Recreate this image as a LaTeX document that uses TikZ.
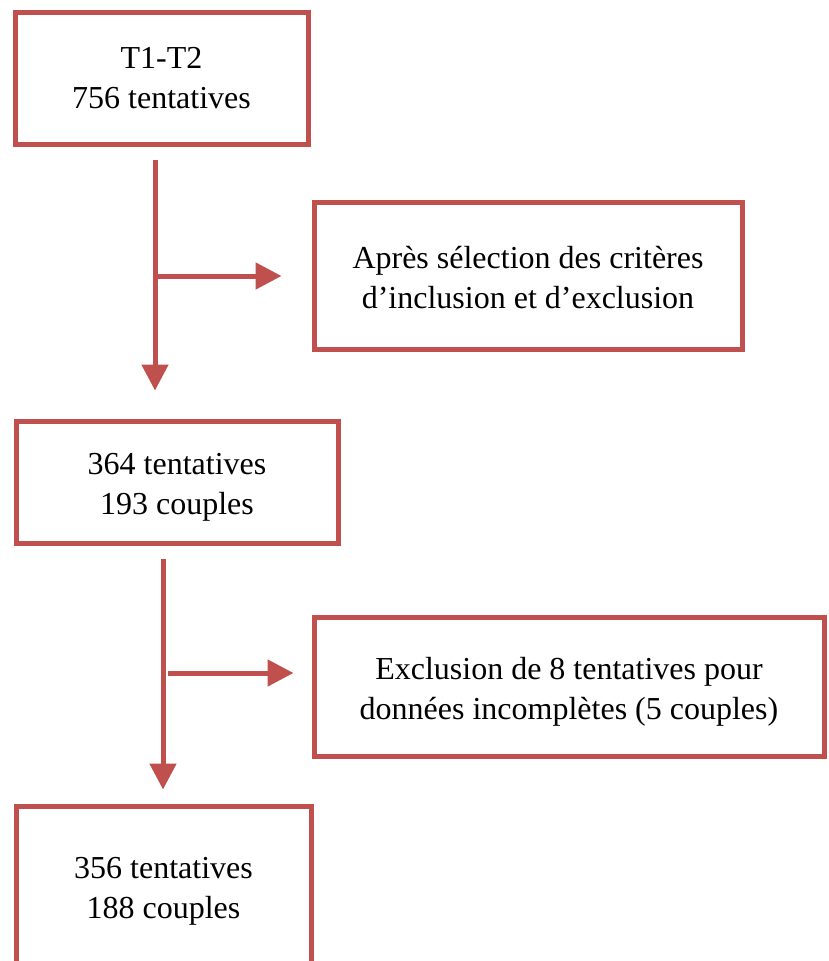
\documentclass[tikz,border=0pt]{standalone}
\usepackage{fontspec}
\setmainfont{Liberation Serif}
\usetikzlibrary{arrows.meta,shadows}
\definecolor{boxred}{HTML}{C0504D}
\tikzset{
  flowbox/.style={draw=boxred, line width=5pt, fill=white, align=center,
    font=\fontsize{32pt}{40pt}\selectfont, inner sep=0pt,
    drop shadow={opacity=0.18, shadow xshift=1.5pt, shadow yshift=-2.5pt}},
  arr/.style={draw=boxred, line width=5pt, -{Triangle[length=26pt,width=26pt]}}
}
\begin{document}
\begin{tikzpicture}[x=1pt,y=1pt]
\useasboundingbox (0,0) rectangle (828,-961);
\clip (0,0) rectangle (828,-961);
\node[flowbox, minimum width=293pt, minimum height=132pt] (b1) at (161.5,-78) {T1-T2\\756 tentatives};
\node[flowbox, minimum width=428pt, minimum height=147pt] (b2) at (528,-275.5) {\rule{0pt}{26pt}Après sélection des critères\\d’inclusion et d’exclusion};
\node[flowbox, minimum width=322pt, minimum height=122pt] (b3) at (177,-482) {\rule{0pt}{32pt}364 tentatives\\193 couples};
\node[flowbox, minimum width=510pt, minimum height=139pt] (b4) at (569,-686.5) {\rule{0pt}{32pt}Exclusion de 8 tentatives pour\\données incomplètes (5 couples)};
\node[flowbox, minimum width=295pt, minimum height=170pt] (b5) at (163.5,-891) {356 tentatives\\188 couples};
\coordinate (j1) at (155,-276);
\coordinate (j2) at (163,-673);
\draw[arr] ([yshift=-13pt]b1.south -| j1) -- ([yshift=28pt]b3.north -| j1);
\draw[arr] ([xshift=-1pt]j1) -- ([xshift=-30pt]b2.west |- j1);
\draw[arr] ([yshift=-13pt]b3.south -| j2) -- ([yshift=14pt]b5.north -| j2);
\draw[arr] ([xshift=5pt]j2) -- ([xshift=-18pt]b4.west |- j2);
\end{tikzpicture}
\end{document}
